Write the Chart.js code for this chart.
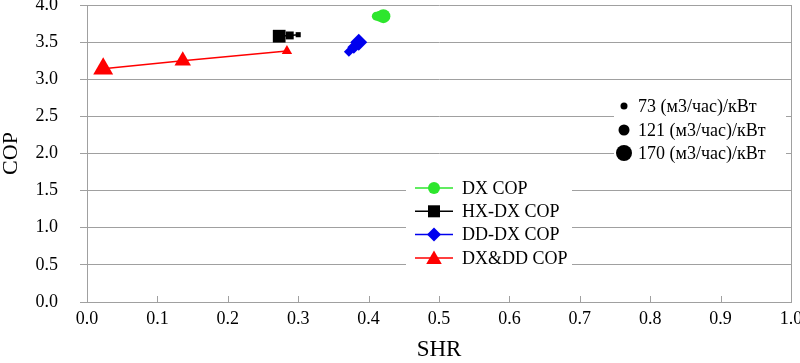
<!DOCTYPE html>
<html>
<head>
<meta charset="utf-8">
<script src="https://cdn.jsdelivr.net/npm/chart.js@4"></script>
<style>
  body { margin: 0; background: #fff; }
  #wrap { width: 800px; height: 363px; }
</style>
</head>
<body>
<div id="wrap"><canvas id="copChart"></canvas></div>
<script>

// series names
const seriesNames = ["DX COP", "HX-DX COP", "DD-DX COP", "DX&DD COP"];

// airflow per point, (м3/час)/кВт
const flowLabels = [73, 121, 170];

// DX
const dxShr = [0.411, 0.416, 0.421];
const dxCop = [3.85, 3.85, 3.85];
const dxFlow = [73, 121, 170];

// HX-DX
const hxShr = [0.273, 0.288, 0.300];
const hxCop = [3.58, 3.59, 3.60];
const hxFlow = [170, 121, 73];

// DD-DX
const ddShr = [0.372, 0.379, 0.386];
const ddCop = [3.37, 3.43, 3.50];
const ddFlow = [73, 121, 170];

// DX&DD
const mixShr = [0.023, 0.136, 0.284];
const mixCop = [3.14, 3.25, 3.38];
const mixFlow = [170, 121, 73];

const xTicks = [0, 0.1, 0.2, 0.3, 0.4, 0.5, 0.6, 0.7, 0.8, 0.9, 1.0];

const FONT = "'Liberation Serif', 'Times New Roman', serif";
const GRID = "#a0a0a0";

const markerSize = {
  circle:   { 73: 4.5, 121: 5.5, 170: 7 },
  rect:     { 73: 3.6, 121: 5.6, 170: 9 },
  rectRot:  { 73: 5,   121: 6.5, 170: 8.5 },
  triangle: { 73: 6,   121: 9.5, 170: 11.5 }
};

const colors = ["#2de62d", "#000000", "#0000ee", "#ff0000"];
const styles = ["circle", "rect", "rectRot", "triangle"];

function points(xs, ys){
  return xs.map((x, i) => ({ x: x, y: ys[i] }));
}

function makeSet(i, xs, ys, flows){
  return {
    label: seriesNames[i],
    data: points(xs, ys),
    showLine: true,
    borderColor: colors[i],
    backgroundColor: colors[i],
    borderWidth: 1.5,
    pointStyle: styles[i],
    pointRadius: flows.map(f => markerSize[styles[i]][f]),
    pointBorderWidth: 0,
    pointHoverRadius: flows.map(f => markerSize[styles[i]][f])
  };
}

const legendPlugin = {

  id: "customLegends",

  afterDraw(chart){

    const ctx = chart.ctx;
    const area = chart.chartArea;
    const xs = chart.scales.x;

    ctx.save();

    // right border + inner ticks on x axis
    ctx.strokeStyle = GRID;
    ctx.lineWidth = 1;
    ctx.beginPath();
    ctx.moveTo(area.right + 0.5, area.top);
    ctx.lineTo(area.right + 0.5, area.bottom);
    xTicks.forEach(v => {
      if (v === 0) return;
      const px = Math.round(xs.getPixelForValue(v)) + 0.5;
      ctx.moveTo(px, area.bottom);
      ctx.lineTo(px, area.bottom - 6);
    });
    ctx.stroke();

    // series legend
    ctx.fillStyle = "#fff";
    ctx.fillRect(406, 177, 166, 93);

    const radii = [6, 8.5, 7, 9];

    seriesNames.forEach((name, i) => {

      const y = 188 + i * 23.3;

      ctx.strokeStyle = colors[i];
      ctx.lineWidth = 1.5;
      ctx.beginPath();
      ctx.moveTo(415, y);
      ctx.lineTo(453, y);
      ctx.stroke();

      ctx.fillStyle = colors[i];
      Chart.helpers.drawPoint(ctx, {
        pointStyle: styles[i],
        radius: radii[i],
        borderWidth: 0
      }, 434, y + (styles[i] === "triangle" ? 1.5 : 0));

      ctx.fillStyle = "#000";
      ctx.font = "18px " + FONT;
      ctx.textBaseline = "middle";
      ctx.textAlign = "left";
      ctx.fillText(name, 462, y + 1);

    });

    // marker size legend
    ctx.fillStyle = "#fff";
    ctx.fillRect(614, 92, 172, 74);

    const sizeRadii = { 73: 3.5, 121: 5.5, 170: 8 };
    const rows = [106, 130, 153];

    flowLabels.forEach((f, i) => {
      ctx.fillStyle = "#000";
      ctx.beginPath();
      ctx.arc(624, rows[i], sizeRadii[f], 0, Math.PI * 2);
      ctx.fill();
      ctx.font = "18px " + FONT;
      ctx.textBaseline = "middle";
      ctx.fillText(f + " (м3/час)/кВт", 638, rows[i] + 1);
    });

    ctx.restore();

  }

};

new Chart(document.getElementById("copChart"), {

  type: "scatter",

  data: {
    datasets: [
      makeSet(0, dxShr, dxCop, dxFlow),
      makeSet(1, hxShr, hxCop, hxFlow),
      makeSet(2, ddShr, ddCop, ddFlow),
      makeSet(3, mixShr, mixCop, mixFlow)
    ]
  },

  options: {

    responsive: true,
    maintainAspectRatio: false,
    animation: false,
    events: [],

    layout: {
      autoPadding: false,
      padding: { top: 5, right: 9, left: 0, bottom: 0 }
    },

    plugins: {
      legend: { display: false },
      tooltip: { enabled: false }
    },

    scales: {

      x: {
        type: "linear",
        min: 0,
        max: 1,
        afterBuildTicks(scale){
          scale.ticks = xTicks.map(v => ({ value: v }));
        },
        afterFit(scale){
          scale.height = 61;
          scale.paddingLeft = 0;
          scale.paddingRight = 0;
        },
        ticks: {
          color: "#000",
          padding: 6,
          maxRotation: 0,
          autoSkip: false,
          font: { family: FONT, size: 18 },
          callback: v => v.toFixed(1)
        },
        grid: { display: true, drawOnChartArea: false, drawTicks: false, color: GRID },
        border: { display: true, color: GRID, width: 1 },
        title: {
          display: true,
          text: "SHR",
          color: "#000",
          font: { family: FONT, size: 23, lineHeight: 1 },
          padding: { top: 0, bottom: 2 }
        }
      },

      y: {
        min: 0,
        max: 4,
        afterFit(scale){
          scale.width = 87;
          scale.paddingTop = 0;
          scale.paddingBottom = 0;
        },
        ticks: {
          stepSize: 0.5,
          color: "#000",
          padding: 22,
          font: { family: FONT, size: 18 },
          callback: v => v.toFixed(1)
        },
        grid: { color: GRID, tickLength: 7 },
        border: { display: true, color: GRID, width: 1 },
        title: {
          display: true,
          text: "COP",
          color: "#000",
          font: { family: FONT, size: 22, lineHeight: 1 },
          padding: { top: 0, bottom: 0 }
        }
      }

    }

  },

  plugins: [legendPlugin]

});

</script>
</body>
</html>
